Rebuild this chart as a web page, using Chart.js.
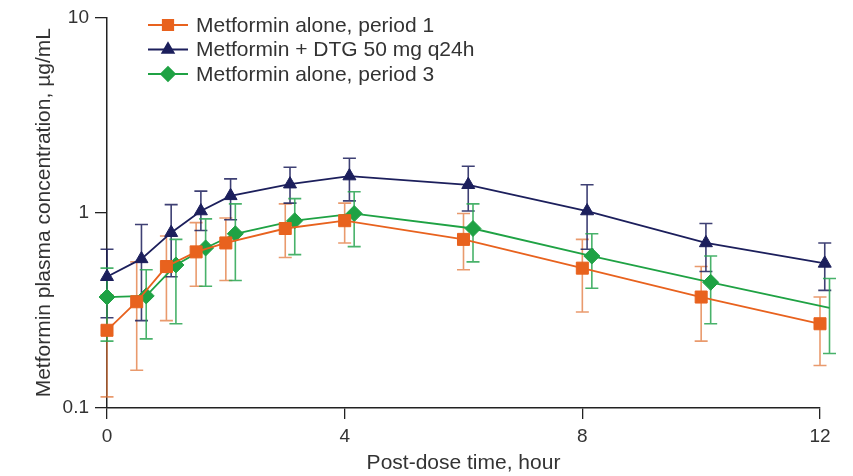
<!DOCTYPE html>
<html>
<head>
<meta charset="utf-8">
<script src="https://cdn.jsdelivr.net/npm/chart.js@4.4.1/dist/chart.umd.min.js"></script>
<style>
  html,body{margin:0;padding:0;background:#fff}
  #wrap{width:853px;height:476px;position:relative}
</style>
</head>
<body>
<div id="wrap"><canvas id="pk"></canvas></div>
<script>
// nominal sampling times (h)
const times = [0, 0.5, 1, 1.5, 2, 3, 4, 6, 8, 10, 12];
const yTicks = [0.1, 1, 10];
const xTicks = [0, 4, 8, 12];

// metformin alone, period 1
const p1Mean = [0.25, 0.35, 0.53, 0.63, 0.70, 0.83, 0.91, 0.73, 0.52, 0.37, 0.27];
const p1Low  = [0.114, 0.156, 0.28, 0.42, 0.45, 0.59, 0.70, 0.51, 0.31, 0.22, 0.165];
const p1High = [0.38, 0.56, 0.76, 0.89, 0.94, 1.11, 1.12, 0.99, 0.73, 0.53, 0.37];
// metformin + DTG
const dtgMean = [0.47, 0.58, 0.79, 1.02, 1.22, 1.40, 1.54, 1.39, 1.02, 0.70, 0.55];
const dtgLow  = [0.29, 0.28, 0.47, 0.81, 0.92, 1.12, 1.15, 1.02, 0.65, 0.50, 0.40];
const dtgHigh = [0.65, 0.87, 1.10, 1.29, 1.49, 1.71, 1.90, 1.73, 1.39, 0.88, 0.70];
// metformin alone, period 3
const p3Mean = [0.37, 0.375, 0.54, 0.66, 0.78, 0.91, 0.99, 0.83, 0.60, 0.44, 0.326];
const p3Low  = [0.22, 0.226, 0.27, 0.42, 0.45, 0.61, 0.67, 0.56, 0.41, 0.27, 0.19];
const p3High = [0.52, 0.51, 0.73, 0.93, 1.11, 1.18, 1.28, 1.11, 0.78, 0.60, 0.46];

const labels = ['Metformin alone, period 1', 'Metformin + DTG 50 mg q24h', 'Metformin alone, period 3'];

// small horizontal dodge so the groups don't sit on top of each other (not at t=0)
const DODGE = [0, 0.08, 0.16];

const ORANGE = '#e8621e', NAVY = '#1c1f5c', GREEN = '#1fa244';
const BAR_COLS = ['rgba(226,120,60,0.75)', 'rgba(28,31,92,0.85)', 'rgba(40,165,80,0.85)'];
const FONT = '"Liberation Sans", Arial, sans-serif';

function pts(mean, k){ return times.map((t,i)=>({x: t===0 ? t : t+DODGE[k], y: mean[i]})) }

const errs = [[p1Low,p1High],[dtgLow,dtgHigh],[p3Low,p3High]];

// error bars, drawn behind the lines / markers
const errorBars = {
  id:'errorBars',
  beforeDatasetsDraw(chart){
    const ctx = chart.ctx, ys = chart.scales.y;
    ctx.save();
    chart.data.datasets.forEach((ds,k)=>{
      const meta = chart.getDatasetMeta(k);
      ctx.strokeStyle = BAR_COLS[k]; ctx.lineWidth = 1.6;
      meta.data.forEach((p,i)=>{
        const lo = ys.getPixelForValue(errs[k][0][i]), hi = ys.getPixelForValue(errs[k][1][i]);
        ctx.beginPath();
        ctx.moveTo(p.x, lo); ctx.lineTo(p.x, hi);
        ctx.moveTo(p.x-6.5, lo); ctx.lineTo(p.x+6.5, lo);
        ctx.moveTo(p.x-6.5, hi); ctx.lineTo(p.x+6.5, hi);
        ctx.stroke();
      });
    });
    ctx.restore();
  }
};

// legend with the line running through the marker
const lineLegend = {
  id:'lineLegend',
  afterDraw(chart){
    const ctx = chart.ctx;
    const x0 = 148, x1 = 188, tx = 196, y0 = 25, dy = 24.5;
    ctx.save();
    chart.data.datasets.forEach((ds,k)=>{
      const y = y0 + k*dy;
      ctx.strokeStyle = ds.borderColor; ctx.lineWidth = 2;
      ctx.beginPath(); ctx.moveTo(x0,y); ctx.lineTo(x1,y); ctx.stroke();
      ctx.fillStyle = ds.borderColor;
      Chart.helpers.drawPoint(ctx, {pointStyle: ds.pointStyle, radius: ds.pointRadius*0.85, borderWidth: 1}, (x0+x1)/2, y);
      ctx.fillStyle = '#333'; ctx.font = '21px ' + FONT; ctx.textBaseline = 'middle';
      ctx.fillText(ds.label, tx, y+1);
    });
    ctx.restore();
  }
};

function mkSet(k, mean, color, style, r){
  return {
    label: labels[k], data: pts(mean,k),
    borderColor: color, backgroundColor: color,
    pointStyle: style, pointRadius: r, pointHoverRadius: r,
    pointBackgroundColor: color, pointBorderColor: color, pointBorderWidth: 1,
    borderWidth: 1.8, tension: 0, clip: false
  };
}

const chart = new Chart(document.getElementById('pk'), {
  type:'line',
  data:{ datasets:[
    mkSet(0, p1Mean, ORANGE, 'rect', 8.5),
    mkSet(1, dtgMean, NAVY, 'triangle', 7.5),
    mkSet(2, p3Mean, GREEN, 'rectRot', 8)
  ]},
  options:{
    responsive:true, maintainAspectRatio:false, animation:false,
    layout:{ padding:{left:0, right:33, top:15, bottom:0} },
    plugins:{ legend:{display:false}, tooltip:{enabled:false} },
    scales:{
      x:{
        type:'linear', min:0, max:12,
        afterBuildTicks(s){ s.ticks = xTicks.map(v=>({value:v})) },
        afterFit(s){ s.height = 68 },
        grid:{ drawOnChartArea:false, drawTicks:true, tickLength:11, color:'#222', lineWidth:1.3 },
        border:{ display:true, color:'#222', width:1.5 },
        ticks:{ color:'#333', font:{family:FONT, size:19}, padding:6 },
        title:{ display:true, text:'Post-dose time, hour', color:'#333', font:{family:FONT, size:21}, padding:{top:-2, bottom:0} }
      },
      y:{
        type:'logarithmic', min:0.1, max:10,
        afterBuildTicks(s){ s.ticks = yTicks.map(v=>({value:v})) },
        afterFit(s){ s.width = 107 },
        grid:{ drawOnChartArea:false, drawTicks:true, tickLength:12, color:'#222', lineWidth:1.3 },
        border:{ display:true, color:'#222', width:1.5 },
        ticks:{ color:'#333', font:{family:FONT, size:19}, padding:6, callback:v=>String(v) },
        title:{ display:true, text:'Metformin plasma concentration, µg/mL', color:'#333', font:{family:FONT, size:21}, padding:{top:32, bottom:0} }
      }
    }
  },
  plugins:[errorBars, lineLegend]
});
</script>
</body>
</html>
